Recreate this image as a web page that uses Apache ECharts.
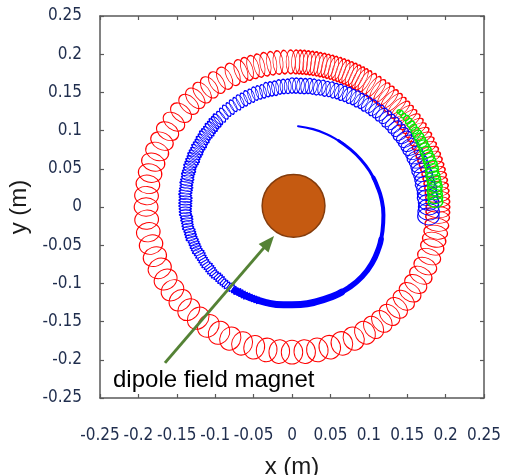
<!DOCTYPE html>
<html><head><meta charset="utf-8">
<script src="https://cdn.jsdelivr.net/npm/echarts@6/dist/echarts.min.js"></script>
<style>html,body{margin:0;padding:0;background:#fff}#c{width:506px;height:475px}</style>
</head><body><div id="c"></div>
<script>
// ---------- data ----------
const xTickLabels = ['-0.25','-0.2','-0.15','-0.1','-0.05','0','0.05','0.1','0.15','0.2','0.25'];
const yTickLabels = ['-0.25','-0.2','-0.15','-0.1','-0.05','0','0.05','0.1','0.15','0.2','0.25'];

// red gyration loops: [guiding-centre angle (deg), tangential loop diameter (mm)]
const redRadiusMm = 190;   // guiding-centre radius
const redRadialMm = 31;    // radial loop diameter
const redLoops = [
 [0,14],[2,14],[4,14],[6,13],[8,13],[10,13],[12,13],[14,13],[16,13],[18,13],[20,13],[22,13],[24,13],
 [26,12],[28,12],[30,12],[32,12],[34,12],[36,12],[38,12],[40,12],[42,12],[44,12],[46,12],[48,12],
 [50,12],[52,12],[54,12],[56,11],[58,11],[60,11],
 [61.5,11],[63,11],[64.5,11],[66,11],[67.5,11],[69,11],[70.5,11],[72,11],[73.5,11],[75,11],[76.5,11],
 [78,11],[79.5,11],[81,11],[82.5,11],[84,11],[85.5,11],[87,11],[88.5,11],
 [90.5,12],[93,12],[95.5,13],[98,13],[100.5,14],[103,14],[105.5,15],[108,15],[110.5,16],
 [114,17],[117.5,18],[121,18],[124.5,19],[128,19],[131.5,20],[135,20],
 [139.5,21],[144,21],[148.5,22],[153,22],[157.5,23],[162,23],[166.5,24],[171,24],[175.5,24],[180,24],
 [185,25],[190,25],[195,25],[200,25],[205,26],[210,26],[215,26],[220,26],[225,26],[230,26],[235,27],
 [240,27],[245,27],[250,27],[255,27],[260,27],[265,27],
 [270,28],[275,28],[280,28],[285,28],[290,28],[295,27],[300,26],
 [304,24],[308,24],[312,23],[316,23],[320,22],[324,22],[328,22],[332,21],[336,21],[340,20],[344,20],
 [347,19],[350,18],[353,17],[356,16],[358,15]
];

// blue gyration loops: [angle (deg), guiding radius (mm), tangential diam (mm), radial diam (mm)]
const blueLoopsOuter = [
 [-4,178,22,28],[-2,178,22,28],[0,178,21,27],[2,178,21,27],[4,177,21,27],[6,177,20,26],[8,177,20,26],
 [10,176,19,26],[12,176,19,25],[14,176,18,25],[16,175,18,25],[18,175,17,24],[20,175,17,24],
 [22,174,16,24],[24,174,16,23],[26,173,15,23],[28,173,15,23],[30,172,14,22],[32,172,14,22],[34,171,14,22],
 [36,171,13,21],[38,170,13,21],[40,170,13,21],[42,169,12,21],[44,169,12,20],[46,168,12,20],[48,168,11,20],
 [50,167,11,20],[52,167,11,20],[54,166,11,20],[56,166,10,20],[58,165,10,20],[60,165,10,20],[62,164,10,20],
 [64,164,10,20],[66,163,10,20],[68,163,10,20],[70,162,10,20],[72,162,10,20],[74,161,10,20],[76,161,10,20],
 [78,160,10,20],[80,160,10,20],[82,160,10,20],[84,159,10,20],[86,159,10,20],[88,159,10,20],[90,159,10,20],
 [92,158,9,19],[94,158,9,19],[96,158,9,19],[98,157,9,19],[100,157,9,19],[102,157,9,19],[104,156,8,18],
 [106,156,8,18],[108,156,8,18],[110,155,8,18],[112,155,8,18],[114,154,8,18],[116,154,8,18],[118,153,7,18],
 [120,153,7,17],[122,152,7,17],[124,152,7,17],[126,151,7,17],[128,150,7,17]
];
const blueLoopsInner = [
 [130,150,7,17],[131.5,149,7,17],[133,149,6,17],[134.5,148,6,17],[136,148,6,17],[137.5,147,6,17],[139,147,6,17],
 [140.5,147,6,17],[142,146,6,17],[143.5,146,6,17],[145,145,6,17],[146.5,145,6,17],[148,145,6,17],[149.5,144,6,17],
 [151,144,6,17],[152.5,144,6,17],[154,143,6,17],[155.5,143,6,17],[157,143,6,16],[158.5,143,6,16],[160,142,6,16],
 [161.5,142,6,16],[163,142,6,16],[164.5,141,6,16],[166,141,5,16],[167.5,141,5,16],[169,140,5,16],[170.5,140,5,16],
 [172,140,5,16],[173.5,140,5,16],[175,139,5,16],[176.5,139,5,16],[178,139,5,16],[179.5,139,5,16],
 [181,139,5,15],[182.5,139,5,15],[184,139,5,15],[185.5,138,5,15],[187,138,5,15],[188.5,138,5,14],[190,138,5,14],
 [191.5,138,5,14],[193,137,5,14],[194.5,137,5,14],[196,137,5,14],[197.5,137,5,14],[199,136,5,13],[200.5,136,5,13],
 [202,136,5,13],[203.5,136,5,13],[205,136,5,13],[206.5,135,5,13],[208,135,4,13],[209.5,135,4,12],[211,135,4,12],
 [212.5,135,4,12],[214,135,4,12],[215.5,134,4,12],[217,134,4,12],[218.5,134,4,12],[220,134,4,11],[221.5,134,4,11],
 [223,133,4,11],[224.5,133,4,11],[226,133,4,11],[227.5,133,4,10],[229,133,4,10],[230.5,133,4,10],[232,132,4,10],
 [233.5,132,4,10],[235,132,4,9],[236.5,132,4,9],[238,131,4,9],[239.5,131,4,9],[241,131,3,9],[242.5,131,3,9],
 [244,130,3,8],[245.5,130,3,8],[247,130,3,8],[248.5,130,3,8],[250,130,3,8]
];

// blue inner spiral (tight gyration, seen as a line): [angle (deg), radius (mm)]
const blueSpiralA = [[236,132],[245,130.5],[255,129.5],[265,128.5],[275,128],[285,128],[295,128.5],[300,128.8]];
const blueSpiralB = [[295,128.5],[305,129],[315,129],[325,127.5],[335,125],[340,123.5]];
const blueSpiralC = [[335,125],[345,122],[355,119.5],[365,117],[375,114],[380,112.8]];
const blueSpiralD = [[375,114],[385,111.5],[395,109],[405,107],[415,106]];
const blueSpiralE = [[410,106.5],[415,106],[425,105.5],[435,105.5],[445.7,106]];

// green gyration loops: [angle (deg), guiding radius (mm), tangential diam (mm), radial diam (mm)]
const greenLoops = [
 [2,187,14,19],[3.5,187,14,19],[5,187,13,19],[6.5,187,13,19],[8,188,13,19],[9.5,188,13,18],[11,188,12,18],
 [12.5,188,12,18],[14,188,12,17],[15.5,189,12,17],[17,189,11,17],[18.5,189,11,16],[20,189,11,16],
 [21.5,189,10,15],[23,189,10,15],[24.5,189,10,14],[26,189,9,14],[27.5,189,9,13],[29,189,9,13],
 [30.5,189,8,12],[32,189,8,11],[33.5,189,7,10],[35,189,7,10],[36.5,189,6,9],[38,189,6,8],
 [39.5,188,5,7],[41,188,5,6],[42,187,4,5]
];

const magnetCenter = [0.002, 0.0015];
const magnetRadius = 0.041;
const arrowStart = [-0.1654, -0.204];
const arrowEnd = [-0.0302, -0.046];
const annotation = 'dipole field magnet';

// ---------- chart ----------
const chart = echarts.init(document.getElementById('c'), null, {renderer: 'canvas'});
const labelFont = "'Liberation Sans Narrow','Arial Narrow','DejaVu Sans Condensed',sans-serif";
const mainFont = "'Liberation Sans',Arial,sans-serif";
const frame = '#595959';
const tickColor = '#1f2d4d';

function axisBase(extra) {
  return Object.assign({
    type: 'value', min: -0.25, max: 0.25, interval: 0.05,
    axisLine: {show: true, onZero: false, lineStyle: {color: frame, width: 1.5}},
    axisTick: {show: true, inside: true, length: 4, lineStyle: {color: frame, width: 1.2}},
    splitLine: {show: false},
    axisLabel: {show: false}
  }, extra);
}

chart.setOption({
  animation: false,
  backgroundColor: '#fff',
  grid: {left: 100, top: 16, width: 384, height: 382, containLabel: false, outerBoundsMode: 'none'},
  xAxis: [
    axisBase({position: 'bottom',
      axisLabel: {show: true, margin: 29, color: tickColor, fontFamily: labelFont, fontSize: 17,
        showMinLabel: true, showMaxLabel: true, hideOverlap: false,
        formatter: (v, i) => xTickLabels[i]},
      name: 'x (m)', nameLocation: 'middle', nameGap: 57,
      nameTextStyle: {fontSize: 24, color: '#1a1a1a', fontFamily: mainFont}}),
    axisBase({position: 'top'})
  ],
  yAxis: [
    axisBase({position: 'left',
      axisLabel: {show: true, margin: 18, color: tickColor, fontFamily: labelFont, fontSize: 17,
        showMinLabel: true, showMaxLabel: true, hideOverlap: false,
        formatter: (v, i) => yTickLabels[i]},
      name: 'y (m)', nameLocation: 'middle', nameGap: 46,
      nameTextStyle: {fontSize: 24, color: '#1a1a1a', fontFamily: mainFont}}),
    axisBase({position: 'right'})
  ],
  series: []
});

// scale of the value axes in pixels per metre (from the library's own axes)
const p0 = chart.convertToPixel({gridIndex: 0}, [0, 0]);
const p1 = chart.convertToPixel({gridIndex: 0}, [0.1, 0.1]);
const kx = Math.abs(p1[0] - p0[0]) / 0.1;
const ky = Math.abs(p1[1] - p0[1]) / 0.1;
const k = (kx + ky) / 2;

const ELLIPSE = 'path://M0,-1C0.552,-1,1,-0.552,1,0C1,0.552,0.552,1,0,1C-0.552,1,-1,0.552,-1,0C-1,-0.552,-0.552,-1,0,-1Z';
const D2R = Math.PI / 180;
function loopItem(ang, rMm, tanMm, radMm) {
  const r = rMm / 1000;
  return {
    value: [r * Math.cos(ang * D2R), r * Math.sin(ang * D2R)],
    symbol: ELLIPSE,
    symbolSize: [Math.max(tanMm / 1000 * k, 2), Math.max(radMm / 1000 * k, 2)],
    symbolRotate: ang - 90
  };
}
function loopSeries(name, items, color, width, z) {
  return {
    name, type: 'scatter', data: items, z, silent: true,
    symbolKeepAspect: false,
    itemStyle: {color: 'none', borderColor: color, borderWidth: width, opacity: 1},
    emphasis: {disabled: true}
  };
}
function spiralSeries(pts, width) {
  return {
    type: 'line', z: 4, silent: true, smooth: true, showSymbol: false, symbol: 'none',
    data: pts.map(p => [p[1] / 1000 * Math.cos(p[0] * D2R), p[1] / 1000 * Math.sin(p[0] * D2R)]),
    lineStyle: {color: '#0000ff', width: width, cap: 'round'},
    emphasis: {disabled: true}
  };
}

chart.setOption({
  series: [
    loopSeries('red', redLoops.map(d => loopItem(d[0], redRadiusMm, d[1], redRadialMm)), '#ff0000', 1, 2),
    loopSeries('blue', blueLoopsOuter.map(d => loopItem(d[0], d[1], d[2], d[3])), '#0000ff', 1, 3),
    loopSeries('blue2', blueLoopsInner.map(d => loopItem(d[0], d[1], d[2], d[3])), '#0000ff', 1.2, 3),
    spiralSeries(blueSpiralA, 7),
    spiralSeries(blueSpiralB, 5.5),
    spiralSeries(blueSpiralC, 4),
    spiralSeries(blueSpiralD, 3),
    spiralSeries(blueSpiralE, 2.2),
    loopSeries('green', greenLoops.map(d => loopItem(d[0], d[1], d[2], d[3])), '#00ee00', 1.3, 5),
    {
      name: 'magnet', type: 'scatter', z: 6, silent: true,
      data: [magnetCenter],
      symbol: 'circle', symbolSize: 2 * magnetRadius * k,
      itemStyle: {color: '#c55a11', borderColor: '#843c0c', borderWidth: 1.5, opacity: 1},
      emphasis: {disabled: true},
      markLine: {
        silent: true, animation: false, symbol: ['none', 'triangle'], symbolSize: [13, 16],
        lineStyle: {color: '#548235', width: 3, type: 'solid', opacity: 1},
        label: {show: false}, emphasis: {disabled: true},
        data: [[{coord: arrowStart}, {coord: arrowEnd}]]
      }
    }
  ],
  graphic: [{
    type: 'text', left: 113, top: 368, z: 100, silent: true,
    style: {text: annotation, fontSize: 24, fontFamily: mainFont, fill: '#000'}
  }]
});
</script>
</body></html>
